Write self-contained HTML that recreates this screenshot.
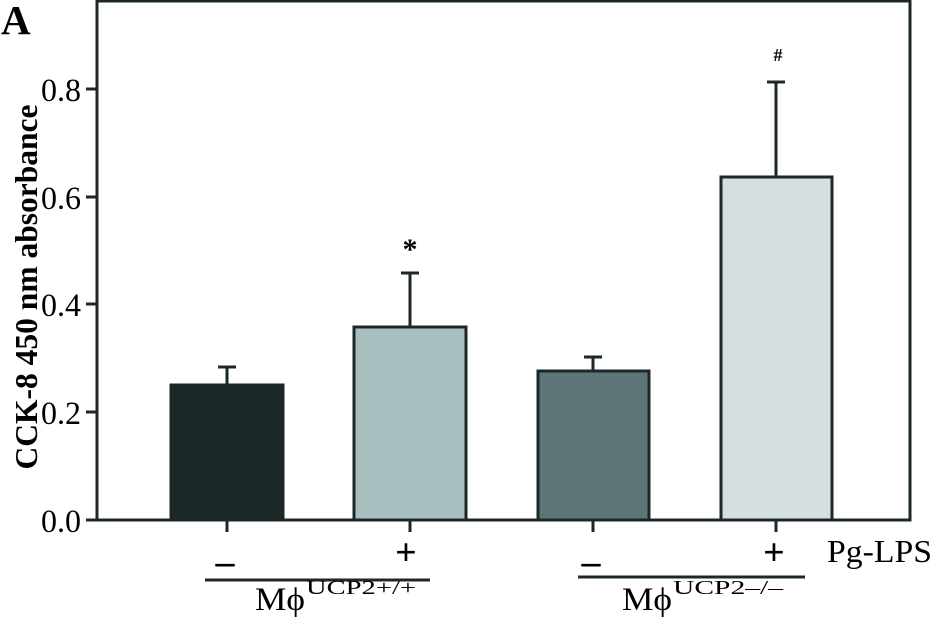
<!DOCTYPE html>
<html><head><meta charset="utf-8"><style>
html,body{margin:0;padding:0;background:#fff;}
svg{display:block;font-family:"Liberation Serif",serif;}
</style></head><body>
<svg width="933" height="618" viewBox="0 0 933 618" xmlns="http://www.w3.org/2000/svg">
<g stroke="#1c2828" stroke-width="3" fill="none">
<polyline points="97,0 97,520 910,520 910,0"/>
<line x1="97" y1="1" x2="910" y2="1"/>
<line x1="86" y1="520" x2="97" y2="520"/>
<line x1="86" y1="412" x2="97" y2="412"/>
<line x1="86" y1="304" x2="97" y2="304"/>
<line x1="86" y1="197" x2="97" y2="197"/>
<line x1="86" y1="89" x2="97" y2="89"/>
<line x1="227" y1="520" x2="227" y2="532"/>
<line x1="410" y1="520" x2="410" y2="532"/>
<line x1="593" y1="520" x2="593" y2="532"/>
<line x1="776" y1="520" x2="776" y2="532"/>
</g>
<g stroke="#1c2828" stroke-width="3">
<rect x="171" y="385" width="112" height="135" fill="#1c2828"/>
<rect x="354" y="327" width="112" height="193" fill="#a9bebf"/>
<rect x="538" y="371" width="111" height="149" fill="#5c7677"/>
<rect x="721" y="177" width="111" height="343" fill="#d5dfdf"/>
<line x1="227" y1="385" x2="227" y2="367"/>
<line x1="218" y1="367" x2="236" y2="367"/>
<line x1="410" y1="327" x2="410" y2="273"/>
<line x1="401" y1="273" x2="419" y2="273"/>
<line x1="593" y1="371" x2="593" y2="357"/>
<line x1="584" y1="357" x2="602" y2="357"/>
<line x1="776" y1="177" x2="776" y2="82"/>
<line x1="767" y1="82" x2="785" y2="82"/>
<line x1="205" y1="580" x2="430" y2="580"/>
<line x1="578" y1="577" x2="805" y2="577"/>
</g>
<g fill="#000" font-size="33" text-anchor="end">
<text x="81" y="532" textLength="40" lengthAdjust="spacingAndGlyphs">0.0</text>
<text x="81" y="424" textLength="40" lengthAdjust="spacingAndGlyphs">0.2</text>
<text x="81" y="316" textLength="40" lengthAdjust="spacingAndGlyphs">0.4</text>
<text x="81" y="209" textLength="40" lengthAdjust="spacingAndGlyphs">0.6</text>
<text x="81" y="101" textLength="40" lengthAdjust="spacingAndGlyphs">0.8</text>
</g>
<text x="1" y="34" font-size="41" font-weight="bold">A</text>
<text transform="translate(37,287) rotate(-90)" text-anchor="middle" font-size="32" font-weight="bold" textLength="365" lengthAdjust="spacingAndGlyphs">CCK-8 450 nm absorbance</text>
<text x="410" y="259" font-size="30" font-weight="bold" text-anchor="middle">*</text>
<text x="778" y="61" font-size="18" font-weight="bold" text-anchor="middle">#</text>
<g font-size="38" font-weight="bold" text-anchor="middle">
<text x="225" y="574">–</text>
<text x="406" y="565">+</text>
<text x="591" y="574">–</text>
<text x="774" y="565">+</text>
</g>
<text x="827" y="562" font-size="32" textLength="105" lengthAdjust="spacingAndGlyphs">Pg-LPS</text>
<text x="255" y="610" font-size="33" textLength="50" lengthAdjust="spacingAndGlyphs">Mϕ</text>
<text x="306" y="594" font-size="20" textLength="110" lengthAdjust="spacingAndGlyphs">UCP2+/+</text>
<text x="622" y="610" font-size="33" textLength="50" lengthAdjust="spacingAndGlyphs">Mϕ</text>
<text x="673" y="594" font-size="20" textLength="110" lengthAdjust="spacingAndGlyphs">UCP2–/–</text>
</svg>
</body></html>
